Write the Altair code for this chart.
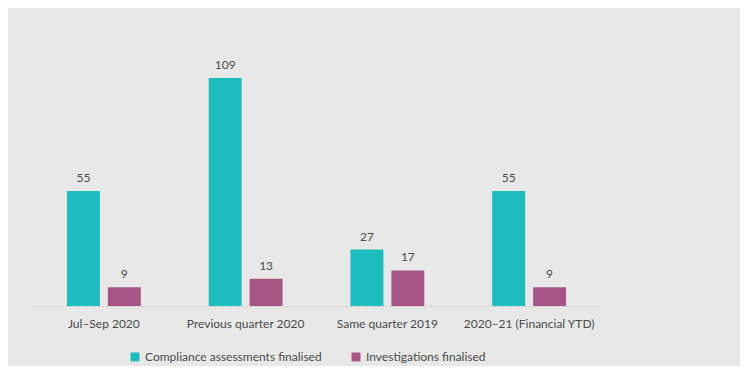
import altair as alt
import pandas as pd

categories = ["Jul\u2013Sep 2020", "Previous quarter 2020", "Same quarter 2019", "2020\u201321 (Financial YTD)"]
series = ["Compliance assessments finalised", "Investigations finalised"]
compliance = [55, 109, 27, 55]
investigations = [9, 13, 17, 9]
colors = ["#1fbcbf", "#a75586"]

rows = []
for c, a, b in zip(categories, compliance, investigations):
    rows.append({"cat": c, "series": series[0], "value": a})
    rows.append({"cat": c, "series": series[1], "value": b})
df = pd.DataFrame(rows)

FONT = "Lato"
TXT = "#4a4a4a"

base = alt.Chart(df).encode(
    x=alt.X("cat:N", sort=categories, title=None,
            scale=alt.Scale(paddingInner=0, paddingOuter=0),
            axis=alt.Axis(labelAngle=0, ticks=False, domainColor="#c8c8c8",
                          domainDash=[2, 2], labelColor=TXT, labelFont=FONT,
                          labelFontSize=12, labelPadding=12)),
    xOffset=alt.XOffset("series:N", sort=series,
                        scale=alt.Scale(paddingInner=0.195, paddingOuter=0.83)),
    y=alt.Y("value:Q", title=None, scale=alt.Scale(domain=[0, 120]), axis=None),
)

bars = base.mark_bar().encode(
    color=alt.Color("series:N", sort=series,
                    scale=alt.Scale(domain=series, range=colors),
                    legend=alt.Legend(title=None, orient="none", direction="horizontal",
                                      legendX=96, legendY=296, symbolType="square",
                                      symbolSize=80, labelFont=FONT, labelFontSize=12,
                                      labelColor=TXT, columnPadding=28, labelLimit=400,
                                      symbolStrokeWidth=0))
)

labels = base.mark_text(baseline="bottom", dy=-6, font=FONT, fontSize=12, color=TXT).encode(
    text=alt.Text("value:Q")
)

chart = (bars + labels).properties(
    width=567, height=251,
    background="#e8e8e8",
    padding={"left": 25, "top": 47, "right": 140, "bottom": 60},
    autosize=alt.AutoSizeParams(type="none"),
).configure_view(stroke=None).configure_axis(grid=False)

chart.save("out.html", embed_options={"renderer": "svg", "actions": False})
